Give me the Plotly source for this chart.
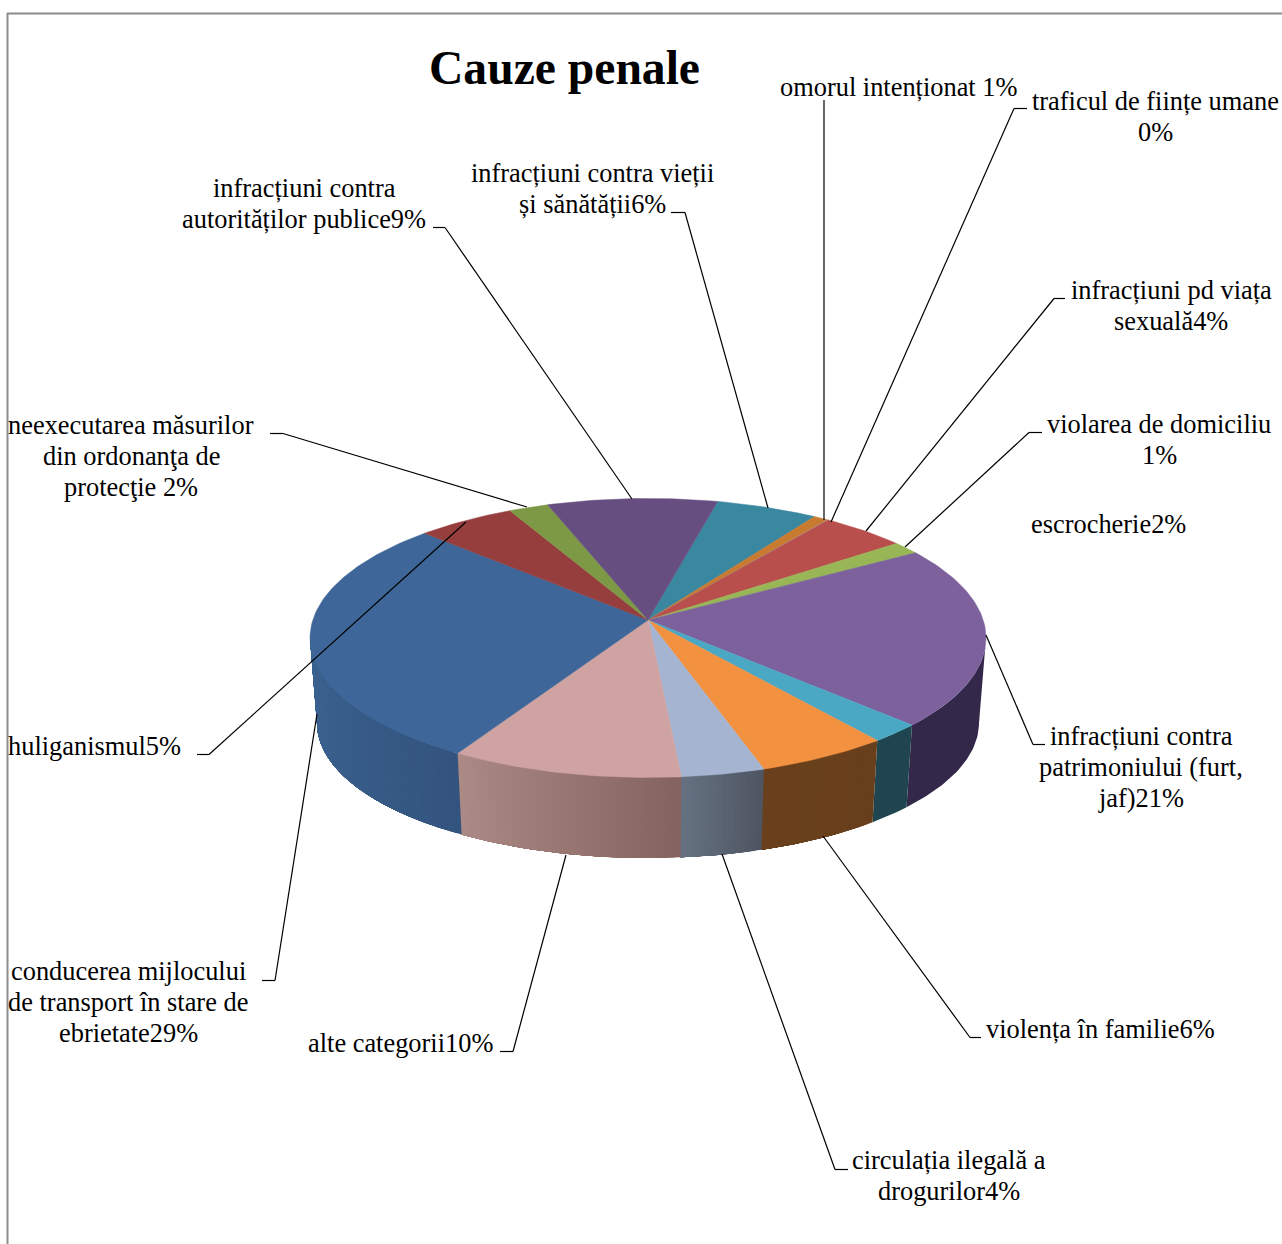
import math
import plotly.graph_objects as go

# ---- data -------------------------------------------------------------
categories = [
    "infracțiuni contra vieții și sănătății", "omorul intenționat", "traficul de ființe umane",
    "infracțiuni pd viața sexuală", "violarea de domiciliu", "infracțiuni contra patrimoniului",
    "escrocherie", "violența în familie", "circulația ilegală a drogurilor", "alte categorii",
    "conducerea mijlocului de transport în stare de ebrietate", "huliganismul",
    "neexecutarea măsurilor din ordonanţa de protecţie", "infracțiuni contra autorităților publice",
]
values = [4.9, 0.7, 0.05, 4.2, 1.4, 21.2, 2.4, 6.3, 4.0, 11.1, 29.0, 4.8, 1.9, 8.1]
data_labels = [
    "infracțiuni contra vieții<br>și sănătății6%", "omorul intenționat 1%", "traficul de ființe umane<br>0%",
    "infracțiuni pd viața<br>sexuală4%", "violarea de domiciliu<br>1%",
    "infracțiuni contra<br>patrimoniului (furt,<br>jaf)21%", "escrocherie2%", "violența în familie6%",
    "circulația ilegală a<br>drogurilor4%", "alte categorii10%",
    "conducerea mijlocului<br>de transport în stare de<br>ebrietate29%", "huliganismul5%",
    "neexecutarea măsurilor<br>din ordonanţa de<br>protecţie 2%", "infracțiuni contra<br>autorităților publice9%",
]
title_text = "Cauze penale"

# ---- styles -----------------------------------------------------------
top_colors = ["#3a87a0", "#c87a30", "#7f8fa8", "#b84f4d", "#98b655", "#7c619c", "#4aa8c4",
              "#f29140", "#a5b4d1", "#d0a3a3", "#3e6698", "#953e3d", "#7d9946", "#664e80"]
# wall colour at the right and left end of every visible slice wall
wall_right = ["#2b5a6a", "#85511f", "#55606f", "#7a3433", "#657a38", "#33284a", "#1f4650",
              "#683f1c", "#4e5561", "#85625f", "#33547f", "#6a2c2c", "#55682f", "#46365a"]
wall_left = ["#2b5a6a", "#85511f", "#55606f", "#7a3433", "#657a38", "#33284a", "#1f4650",
             "#6a401c", "#667282", "#ab8a85", "#3c6491", "#6a2c2c", "#55682f", "#46365a"]
FONT = "Liberation Serif"
LABEL_SIZE = 26.4
LINE_PITCH = 31

# ---- pie geometry (pixels of the page) --------------------------------
ROT = 0.033
APEX = (648, 620)
TOP = dict(cx=648, cy=638, rx=338, ry=139.5)
BOT = dict(cx=648, cy=723, rx=331, ry=135)


def rim(e, th):
    return e["cx"] + e["rx"] * math.sin(th), e["cy"] - e["ry"] * math.cos(th)


def hex2rgb(h):
    return [int(h[i:i + 2], 16) for i in (1, 3, 5)]


def mix(a, b, t):
    ca, cb = hex2rgb(a), hex2rgb(b)
    return "rgb(%d,%d,%d)" % tuple(round(ca[i] + (cb[i] - ca[i]) * t) for i in range(3))


fig = go.Figure()
total = sum(values)
cum = ROT
spans = []
for v in values:
    spans.append((cum * 2 * math.pi, (cum + v / total) * 2 * math.pi))
    cum += v / total

# walls: only the front half of the cylinder. Each gradient strip runs on to the
# slice's far end, so the next strip paints over it and no seams show.
for i, (a, b) in enumerate(spans):
    a0, b0 = max(a, math.pi / 2), min(b, 1.5 * math.pi)
    if b0 <= a0:
        continue
    n = 1 if wall_left[i] == wall_right[i] else max(1, int((b0 - a0) / math.radians(1.0)))
    m = max(12, int((b0 - a0) / math.radians(1.0)))
    for k in range(n):
        t0 = a0 + (b0 - a0) * k / n
        arc = [t0 + (b0 - t0) * j / m for j in range(m + 1)]
        p = [rim(TOP, t) for t in arc] + [rim(BOT, t) for t in reversed(arc)]
        p.append(p[0])
        col = mix(wall_right[i], wall_left[i], (k + 0.5) / n)
        fig.add_trace(go.Scatter(x=[q[0] for q in p], y=[q[1] for q in p], mode="lines",
                                 fill="toself", fillcolor=col, line=dict(width=0),
                                 hoverinfo="skip", showlegend=False))

# top face
for i, (a, b) in enumerate(spans):
    n = max(2, int((b - a) / math.radians(1)))
    pts = [APEX] + [rim(TOP, a + (b - a) * k / n) for k in range(n + 1)] + [APEX]
    fig.add_trace(go.Scatter(x=[q[0] for q in pts], y=[q[1] for q in pts], mode="lines",
                             fill="toself", fillcolor=top_colors[i],
                             line=dict(color=top_colors[i], width=0.5),
                             name=categories[i], text=data_labels[i], hoverinfo="text",
                             showlegend=False))

# leader lines
leaders = [
    [(671, 212.5), (685, 212.5), (768, 508)],
    [(824, 100), (824, 520)],
    [(1027, 108.5), (1014, 108.5), (831, 522)],
    [(1065, 298.5), (1054, 298.5), (866, 531)],
    [(1042, 432.5), (1029, 432.5), (905, 547)],
    [(1045, 744.5), (1033, 744.5), (986, 635)],
    [(981, 1037.5), (970, 1037.5), (823, 836)],
    [(848, 1169.5), (835, 1169.5), (722, 854)],
    [(500, 1051.5), (513, 1051.5), (566, 855)],
    [(262, 980.5), (275, 980.5), (317, 714)],
    [(197, 754.5), (209, 754.5), (466, 522)],
    [(270, 433.5), (283, 433.5), (527, 507)],
    [(433, 227.5), (445, 227.5), (632, 499)],
]
shapes = []
for L in leaders:
    for p, q in zip(L, L[1:]):
        shapes.append(dict(type="line", x0=p[0], y0=p[1], x1=q[0], y1=q[1],
                           line=dict(color="#000000", width=1.2), layer="above"))
# frame of the chart area
shapes.append(dict(type="line", x0=7.5, y0=13, x1=7.5, y1=1244, line=dict(color="#8c8c8c", width=2)))
shapes.append(dict(type="line", x0=7, y0=13.5, x1=1282, y1=13.5, line=dict(color="#8c8c8c", width=2)))

label_pos = [(592, 188), (898, 87), (1155, 116), (1171, 305), (1159, 439), (1141, 767), (1108, 524),
             (1100, 1029), (949, 1175), (400, 1043), (128, 1002), (94, 746), (131, 456), (304, 203)]
annotations = []
for t, p in zip(data_labels, label_pos):
    rows = t.split("<br>")
    for r, row in enumerate(rows):
        annotations.append(dict(x=p[0], y=p[1] + (r - (len(rows) - 1) / 2) * LINE_PITCH, text=row,
                                showarrow=False, xanchor="center", yanchor="middle", align="center",
                                font=dict(family=FONT, size=LABEL_SIZE, color="#000000")))
annotations.append(dict(x=564.5, y=68, text="<b>%s</b>" % title_text, showarrow=False, xanchor="center",
                        yanchor="middle", font=dict(family=FONT, size=47.6, color="#000000")))

fig.update_layout(
    width=1282, height=1244, margin=dict(l=0, r=0, t=0, b=0), autosize=False,
    paper_bgcolor="#ffffff", plot_bgcolor="#ffffff", showlegend=False,
    xaxis=dict(range=[0, 1282], visible=False, fixedrange=True),
    yaxis=dict(range=[1244, 0], visible=False, fixedrange=True),
    shapes=shapes, annotations=annotations,
)
fig.write_html("out.html", config=dict(displayModeBar=False),
               post_script="document.body.style.margin='0';document.documentElement.style.overflow='hidden';")
